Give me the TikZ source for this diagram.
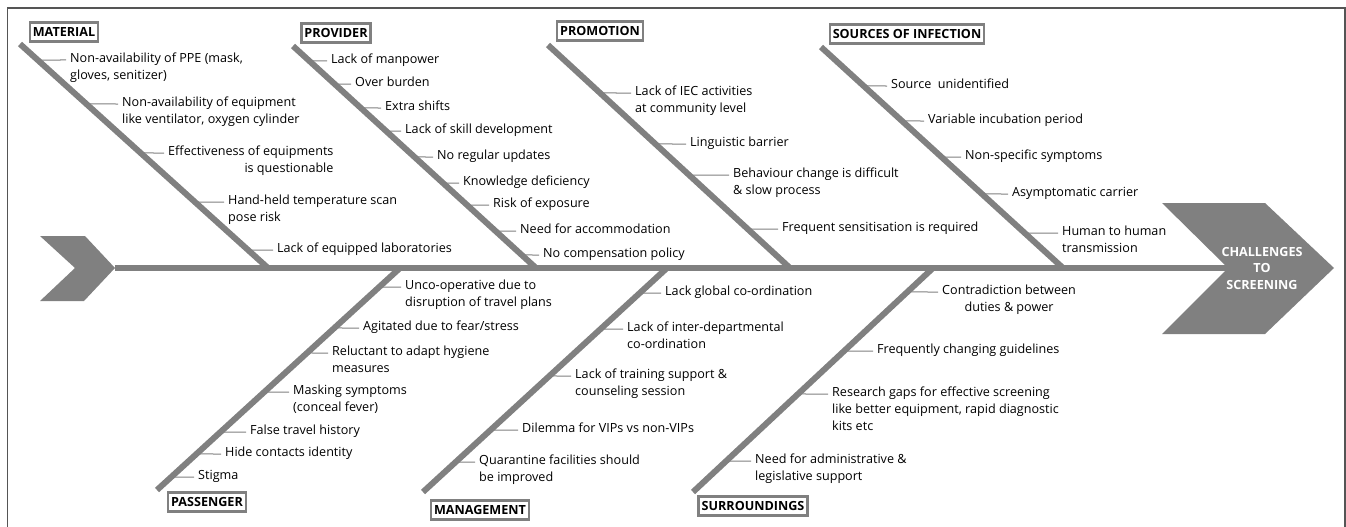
\documentclass[tikz,border=0pt]{standalone}
\usepackage{fontspec}
\setmainfont{Open Sans}

\definecolor{bonegray}{RGB}{128,128,128}
\definecolor{framegray}{RGB}{85,85,85}
\newcommand{\causelines}[2][l]{\begin{tabular}[t]{@{}#1@{}}#2\end{tabular}}

\tikzset{
  bone/.style={draw=bonegray, line width=6pt},
  tick/.style={draw=bonegray, line width=1pt},
  cause/.style={anchor=mid west, inner xsep=4pt, inner ysep=0pt, font=\fontsize{12.6}{17}\selectfont},
  category/.style={draw=bonegray, line width=2.4pt, fill=white, inner xsep=3pt, inner ysep=5pt, font=\bfseries\fontsize{12.6}{14}\selectfont},
}

\begin{document}
\begin{tikzpicture}[x=1pt,y=1pt,yscale=-1,xscale=1]
\useasboundingbox (0,0) rectangle (1346,527);

%Frame
\draw [framegray, line width=1.5pt] (7.5,527) -- (7.5,8) -- (1345,8) -- (1345,527) ;

%Bone ends
\coordinate (matA) at (20,44);    \coordinate (matB) at (268,268);
\coordinate (proA) at (293,46);   \coordinate (proB) at (536,268);
\coordinate (promA) at (548,45);  \coordinate (promB) at (790,268);
\coordinate (srcA) at (821,47);   \coordinate (srcB) at (1063,268);
\coordinate (pasA) at (400,268);  \coordinate (pasB) at (157,490);
\coordinate (manA) at (667,268);  \coordinate (manB) at (423,492);
\coordinate (surA) at (933,268);  \coordinate (surB) at (693,492);
\coordinate (tail) at (115,268);  \coordinate (notch) at (1228,268);

%Shape: Tail
\fill [bonegray] (40,236) -- (85,236) -- (tail) -- (84,301) -- (40,301) -- (75,268) -- cycle ;
%Shape: Head
\fill [bonegray] (1162,203) -- (1265,203) -- (1334,268) -- (1265,334) -- (1162,334) -- (notch) -- cycle ;
%Straight Lines: spine and bones
\draw [bone] (tail) -- (notch) ;
\draw [bone] (matA) -- (matB) ;
\draw [bone] (proA) -- (proB) ;
\draw [bone] (promA) -- (promB) ;
\draw [bone] (srcA) -- (srcB) ;
\draw [bone] (pasA) -- (pasB) ;
\draw [bone] (manA) -- (manB) ;
\draw [bone] (surA) -- (surB) ;

% Text Node: effect
\node [white, align=center, font=\bfseries\fontsize{12.6}{16.5}\selectfont] (effect) at (1262,268) {CHALLENGES\\TO\\SCREENING};

% Text Node: categories
\node [category] (material) at (64,32) {MATERIAL};
\node [category] (provider) at (336,33) {PROVIDER};
\node [category] (promotion) at (600,31) {PROMOTION};
\node [category] (sources) at (907,34) {SOURCES OF INFECTION};
\node [category] (passenger) at (207,502) {PASSENGER};
\node [category] (management) at (480,510) {MANAGEMENT};
\node [category] (surroundings) at (753,506) {SURROUNDINGS};

% Text Node: material
\node [cause] (m1) at (66,60) {\causelines{Non-availability of PPE (mask,\\gloves, senitizer)}};
\node [cause] (m2) at (118,104) {\causelines{Non-availability of equipment\\like ventilator, oxygen cylinder}};
\node [cause] (m3) at (164,153) {\causelines[r]{Effectiveness of equipments\\is questionable}};
\node [cause] (m4) at (224,202) {\causelines{Hand-held temperature scan\\pose risk}};
\node [cause] (m5) at (273,250) {Lack of equipped laboratories};

% Text Node: provider
\node [cause] (p1) at (327,61) {Lack of manpower};
\node [cause] (p2) at (351,84) {Over burden};
\node [cause] (p3) at (381,108) {Extra shifts};
\node [cause] (p4) at (401,131) {Lack of skill development};
\node [cause] (p5) at (433,157) {No regular updates};
\node [cause] (p6) at (459,183) {Knowledge deficiency};
\node [cause] (p7) at (489,205) {Risk of exposure};
\node [cause] (p8) at (516,231) {Need for accommodation};
\node [cause] (p9) at (539,255) {No compensation policy};

% Text Node: promotion
\node [cause] (r1) at (631,93) {\causelines{Lack of IEC activities\\at community level}};
\node [cause] (r2) at (686,144) {Linguistic barrier};
\node [cause] (r3) at (729,175) {\causelines{Behaviour change is difficult\\\& slow process}};
\node [cause] (r4) at (778,229) {Frequent sensitisation is required};

% Text Node: sources of infection
\node [cause] (s1) at (887,86) {Source~ unidentified};
\node [cause] (s2) at (924,121) {Variable incubation period};
\node [cause] (s3) at (961,157) {Non-specific symptoms};
\node [cause] (s4) at (1008,194) {Asymptomatic carrier};
\node [cause] (s5) at (1058,233) {\causelines{Human to human\\transmission}};

% Text Node: passenger
\node [cause] (a1) at (401,287) {\causelines{Unco-operative due to\\disruption of travel plans}};
\node [cause] (a2) at (359,328) {Agitated due to fear/stress};
\node [cause] (a3) at (328,353) {\causelines{Reluctant to adapt hygiene\\measures}};
\node [cause] (a4) at (289,392) {\causelines{Masking symptoms\\(conceal fever)}};
\node [cause] (a5) at (246,432) {False travel history};
\node [cause] (a6) at (221,454) {Hide contacts identity};
\node [cause] (a7) at (194,477) {Stigma};

% Text Node: management
\node [cause] (g1) at (661,293) {Lack global co-ordination};
\node [cause] (g2) at (623,329) {\causelines{Lack of inter-departmental\\co-ordination}};
\node [cause] (g3) at (571,376) {\causelines{Lack of training support \&\\counseling session}};
\node [cause] (g4) at (518,430) {Dilemma for VIPs vs non-VIPs};
\node [cause] (g5) at (475,462) {\causelines{Quarantine facilities should\\be improved}};

% Text Node: surroundings
\node [cause] (u1) at (938,292) {\causelines[c]{Contradiction between\\duties \& power}};
\node [cause] (u2) at (873,351) {Frequently changing guidelines};
\node [cause] (u3) at (828,394) {\causelines{Research gaps for effective screening\\like better equipment, rapid diagnostic\\kits etc}};
\node [cause] (u4) at (751,461) {\causelines{Need for administrative \&\\legislative support}};

%Straight Lines: ticks
\draw [tick] (intersection of matA--matB and m1.mid west--m1.mid east) -- (m1.mid west) ;
\draw [tick] (intersection of matA--matB and m2.mid west--m2.mid east) -- (m2.mid west) ;
\draw [tick] (intersection of matA--matB and m3.mid west--m3.mid east) -- (m3.mid west) ;
\draw [tick] (intersection of matA--matB and m4.mid west--m4.mid east) -- (m4.mid west) ;
\draw [tick] (intersection of matA--matB and m5.mid west--m5.mid east) -- (m5.mid west) ;

\draw [tick] (intersection of proA--proB and p1.mid west--p1.mid east) -- (p1.mid west) ;
\draw [tick] (intersection of proA--proB and p2.mid west--p2.mid east) -- (p2.mid west) ;
\draw [tick] (intersection of proA--proB and p3.mid west--p3.mid east) -- (p3.mid west) ;
\draw [tick] (intersection of proA--proB and p4.mid west--p4.mid east) -- (p4.mid west) ;
\draw [tick] (intersection of proA--proB and p5.mid west--p5.mid east) -- (p5.mid west) ;
\draw [tick] (intersection of proA--proB and p6.mid west--p6.mid east) -- (p6.mid west) ;
\draw [tick] (intersection of proA--proB and p7.mid west--p7.mid east) -- (p7.mid west) ;
\draw [tick] (intersection of proA--proB and p8.mid west--p8.mid east) -- (p8.mid west) ;
\draw [tick] (intersection of proA--proB and p9.mid west--p9.mid east) -- (p9.mid west) ;

\draw [tick] (intersection of promA--promB and r1.mid west--r1.mid east) -- (r1.mid west) ;
\draw [tick] (intersection of promA--promB and r2.mid west--r2.mid east) -- (r2.mid west) ;
\draw [tick] (intersection of promA--promB and r3.mid west--r3.mid east) -- (r3.mid west) ;
\draw [tick] (intersection of promA--promB and r4.mid west--r4.mid east) -- (r4.mid west) ;

\draw [tick] (intersection of srcA--srcB and s1.mid west--s1.mid east) -- (s1.mid west) ;
\draw [tick] (intersection of srcA--srcB and s2.mid west--s2.mid east) -- (s2.mid west) ;
\draw [tick] (intersection of srcA--srcB and s3.mid west--s3.mid east) -- (s3.mid west) ;
\draw [tick] (intersection of srcA--srcB and s4.mid west--s4.mid east) -- (s4.mid west) ;
\draw [tick] (intersection of srcA--srcB and s5.mid west--s5.mid east) -- (s5.mid west) ;

\draw [tick] (intersection of pasA--pasB and a1.mid west--a1.mid east) -- (a1.mid west) ;
\draw [tick] (intersection of pasA--pasB and a2.mid west--a2.mid east) -- (a2.mid west) ;
\draw [tick] (intersection of pasA--pasB and a3.mid west--a3.mid east) -- (a3.mid west) ;
\draw [tick] (intersection of pasA--pasB and a4.mid west--a4.mid east) -- (a4.mid west) ;
\draw [tick] (intersection of pasA--pasB and a5.mid west--a5.mid east) -- (a5.mid west) ;
\draw [tick] (intersection of pasA--pasB and a6.mid west--a6.mid east) -- (a6.mid west) ;
\draw [tick] (intersection of pasA--pasB and a7.mid west--a7.mid east) -- (a7.mid west) ;

\draw [tick] (intersection of manA--manB and g1.mid west--g1.mid east) -- (g1.mid west) ;
\draw [tick] (intersection of manA--manB and g2.mid west--g2.mid east) -- (g2.mid west) ;
\draw [tick] (intersection of manA--manB and g3.mid west--g3.mid east) -- (g3.mid west) ;
\draw [tick] (intersection of manA--manB and g4.mid west--g4.mid east) -- (g4.mid west) ;
\draw [tick] (intersection of manA--manB and g5.mid west--g5.mid east) -- (g5.mid west) ;

\draw [tick] (intersection of surA--surB and u1.mid west--u1.mid east) -- (u1.mid west) ;
\draw [tick] (intersection of surA--surB and u2.mid west--u2.mid east) -- (u2.mid west) ;
\draw [tick] (intersection of surA--surB and u3.mid west--u3.mid east) -- (u3.mid west) ;
\draw [tick] (intersection of surA--surB and u4.mid west--u4.mid east) -- (u4.mid west) ;

\end{tikzpicture}
\end{document}
